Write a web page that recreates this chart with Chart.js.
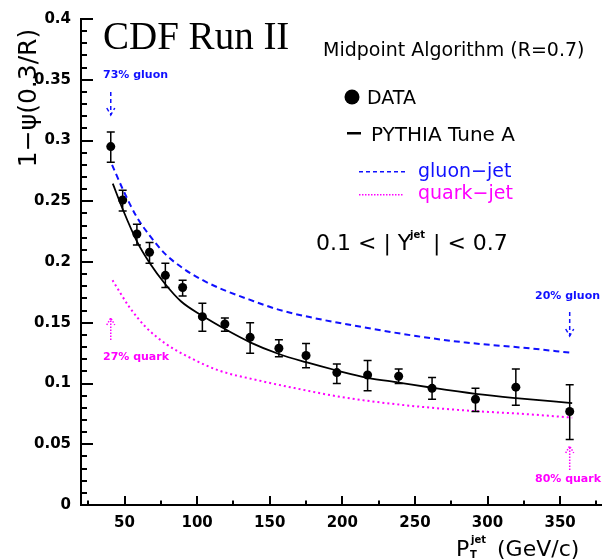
<!DOCTYPE html>
<html>
<head>
<meta charset="utf-8">
<script src="https://cdn.jsdelivr.net/npm/chart.js@4.4.1/dist/chart.umd.min.js"></script>
<style>
    html, body { margin: 0; padding: 0; background: #fff; overflow: hidden; }
    #wrap { width: 606px; height: 559px; }
</style>
</head>
<body>
<div id="wrap"><canvas id="shapeChart" width="606" height="559"></canvas></div>
<script>
// точки данных (pT, 1-psi) и ошибки
const dataPt = [40.5, 48.7, 58.5, 67.2, 78.1, 90, 103.6, 119.1, 136.5, 156.3, 175, 196.2, 217.4, 238.8, 261.8, 291.7, 319.5, 356.6];
const dataPsi = [0.295, 0.251, 0.223, 0.208, 0.189, 0.179, 0.155, 0.149, 0.138, 0.129, 0.123, 0.109, 0.107, 0.106, 0.096, 0.087, 0.097, 0.077];
const dataErrHi = [0.307, 0.259, 0.231, 0.216, 0.199, 0.185, 0.166, 0.154, 0.150, 0.136, 0.133, 0.116, 0.119, 0.112, 0.105, 0.096, 0.112, 0.099];
const dataErrLo = [0.282, 0.242, 0.214, 0.199, 0.179, 0.172, 0.143, 0.143, 0.125, 0.122, 0.113, 0.100, 0.094, 0.100, 0.087, 0.077, 0.082, 0.054];

// PYTHIA Tune A
const pythiaPt = [41.9, 48.9, 58.5, 67.2, 78.1, 89, 103.6, 119.1, 136.5, 156.3, 175, 196.2, 217.4, 238.8, 261.8, 291.7, 319.5, 358.3];
const pythiaPsi = [0.2645, 0.243, 0.217, 0.1994, 0.1817, 0.1675, 0.1557, 0.1448, 0.1339, 0.1243, 0.1175, 0.1107, 0.1047, 0.1008, 0.0965, 0.0915, 0.088, 0.0839];

// gluon-jet
const gluonPt = [41.4, 48.9, 58.5, 67.2, 78.1, 90, 103.6, 117.3, 135.6, 156, 178.8, 215.3, 251.8, 283.7, 329.3, 358.3];
const gluonPsi = [0.28, 0.2596, 0.2368, 0.222, 0.2065, 0.195, 0.1852, 0.1775, 0.1692, 0.1608, 0.1543, 0.1461, 0.1389, 0.1339, 0.1289, 0.1252];

// quark-jet
const quarkPt = [41.7, 53.5, 64.9, 78.6, 94.5, 115, 142.4, 169.7, 197.1, 224.4, 251.8, 283.7, 329.3, 358.3];
const quarkPsi = [0.185, 0.1626, 0.1461, 0.1325, 0.1216, 0.1107, 0.1025, 0.0956, 0.0893, 0.0847, 0.0811, 0.0779, 0.0746, 0.0719];

const xTickValues = [50, 100, 150, 200, 250, 300, 350];
const yTickValues = [0, 0.05, 0.1, 0.15, 0.2, 0.25, 0.3, 0.35, 0.4];
const yTickLabels = ['0', '0.05', '0.1', '0.15', '0.2', '0.25', '0.3', '0.35', '0.4'];

const BLUE = '#1010ff';
const MAGENTA = '#ff00ff';
const SANS = '"DejaVu Sans", sans-serif';

const toPoints = (xs, ys) => xs.map((x, i) => ({x: x, y: ys[i]}));

// ошибки по вертикали
const errorBars = {
    id: 'errorBars',
    afterDatasetsDraw(chart) {
        const {ctx, scales: {x, y}} = chart;
        ctx.save();
        ctx.strokeStyle = '#000';
        ctx.lineWidth = 1.5;
        dataPt.forEach((pt, i) => {
            const px = x.getPixelForValue(pt);
            const top = y.getPixelForValue(dataErrHi[i]);
            const bot = y.getPixelForValue(dataErrLo[i]);
            ctx.beginPath();
            ctx.moveTo(px, top); ctx.lineTo(px, bot);
            ctx.moveTo(px - 4, top); ctx.lineTo(px + 4, top);
            ctx.moveTo(px - 4, bot); ctx.lineTo(px + 4, bot);
            ctx.stroke();
        });
        ctx.restore();
    }
};

function arrow(ctx, x, y1, y2, color, dash) {
    // y1 -> y2, наконечник на y2
    ctx.save();
    ctx.strokeStyle = color;
    ctx.lineWidth = 1.5;
    ctx.setLineDash(dash);
    ctx.beginPath();
    ctx.moveTo(x, y1); ctx.lineTo(x, y2);
    ctx.stroke();
    const d = y2 > y1 ? -1 : 1;
    ctx.beginPath();
    ctx.moveTo(x - 4, y2 + d * 7); ctx.lineTo(x, y2); ctx.lineTo(x + 4, y2 + d * 7);
    ctx.stroke();
    ctx.restore();
}

// подписи, тики, легенда
const decorations = {
    id: 'decorations',
    afterDraw(chart) {
        const {ctx, scales: {x, y}} = chart;
        ctx.save();
        ctx.setLineDash([]);
        ctx.globalAlpha = 1;

        // тики внутрь
        const left = x.left;
        const bottom = y.bottom;
        ctx.fillStyle = '#000';
        for (let k = 0; k <= 40; k++) {
            const py = Math.round(y.getPixelForValue(k / 100));
            const len = k % 5 === 0 ? 12 : 6;
            ctx.fillRect(left, py - 1, len, 2);
        }
        for (let v = 25; v <= 375; v += 25) {
            const px = Math.round(x.getPixelForValue(v));
            const len = v % 50 === 0 ? 9 : 4.5;
            ctx.fillRect(px - 1, bottom - len, 2, len);
        }

        // заголовки осей
        ctx.save();
        ctx.translate(29, 98);
        ctx.rotate(-Math.PI / 2);
        ctx.font = '25px ' + SANS;
        ctx.textAlign = 'center';
        ctx.textBaseline = 'middle';
        ctx.fillText('1\u2212\u03C8(0.3/R)', 0, 0);
        ctx.restore();

        ctx.textAlign = 'left';
        ctx.textBaseline = 'alphabetic';
        ctx.font = '22px ' + SANS;
        ctx.fillText('P', 456, 556);
        ctx.font = 'bold 10px ' + SANS;
        ctx.fillText('T', 470, 558);
        ctx.fillText('jet', 471, 543);
        ctx.font = '22px ' + SANS;
        ctx.fillText('(GeV/c)', 497, 556);

        // CDF Run II
        ctx.font = '39px "Liberation Serif", serif';
        ctx.fillText('CDF Run II', 103, 49);

        ctx.font = '19px ' + SANS;
        ctx.fillText('Midpoint Algorithm (R=0.7)', 323, 56);

        // легенда
        ctx.beginPath();
        ctx.arc(352, 97, 7.5, 0, Math.PI * 2);
        ctx.fill();
        ctx.font = '19px ' + SANS;
        ctx.fillText('DATA', 367, 104);
        ctx.fillRect(347, 132, 14, 2.5);
        ctx.font = '20px ' + SANS;
        ctx.fillText('PYTHIA Tune A', 371, 141);

        ctx.fillStyle = BLUE;
        for (let lx = 359; lx < 403; lx += 7) {
            ctx.fillRect(lx, 171, 4, 1.5);
        }
        ctx.fillStyle = MAGENTA;
        for (let lx = 359; lx < 403; lx += 3) {
            ctx.fillRect(lx, 194, 1.5, 1.5);
        }
        ctx.font = '19px ' + SANS;
        ctx.fillStyle = BLUE;
        ctx.fillText('gluon\u2212jet', 418, 177);
        ctx.fillStyle = MAGENTA;
        ctx.fillText('quark\u2212jet', 418, 199);

        // 0.1 < |Y^jet| < 0.7
        ctx.fillStyle = '#000';
        ctx.font = '22px ' + SANS;
        ctx.fillText('0.1 < | Y', 316, 250);
        ctx.font = 'bold 10px ' + SANS;
        ctx.fillText('jet', 410, 238);
        ctx.font = '22px ' + SANS;
        ctx.fillText(' | < 0.7', 426, 250);

        // стрелки с долями глюонов/кварков
        const xl = x.getPixelForValue(dataPt[0]);
        const xr = x.getPixelForValue(dataPt[dataPt.length - 1]);
        arrow(ctx, xl, 92, 115, BLUE, [4, 3]);
        arrow(ctx, xl, 340, 318, MAGENTA, [1.5, 1.5]);
        arrow(ctx, xr, 312, 336, BLUE, [4, 3]);
        arrow(ctx, xr, 470, 446, MAGENTA, [1.5, 1.5]);

        ctx.font = 'bold 11px ' + SANS;
        ctx.textBaseline = 'middle';
        ctx.fillStyle = BLUE;
        ctx.fillText('73% gluon', 103, 75);
        ctx.fillText('20% gluon', 535, 296);
        ctx.fillStyle = MAGENTA;
        ctx.fillText('27% quark', 103, 357);
        ctx.fillText('80% quark', 535, 479);

        ctx.restore();
    }
};

const chart = new Chart(document.getElementById('shapeChart'), {
    type: 'scatter',
    data: {
        datasets: [
            {
                label: 'gluon-jet',
                type: 'line',
                data: toPoints(gluonPt, gluonPsi),
                borderColor: BLUE,
                borderWidth: 2,
                borderDash: [6, 4],
                pointRadius: 0,
                cubicInterpolationMode: 'monotone',
                fill: false
            },
            {
                label: 'quark-jet',
                type: 'line',
                data: toPoints(quarkPt, quarkPsi),
                borderColor: MAGENTA,
                borderWidth: 2,
                borderDash: [2, 3],
                pointRadius: 0,
                cubicInterpolationMode: 'monotone',
                fill: false
            },
            {
                label: 'PYTHIA Tune A',
                type: 'line',
                data: toPoints(pythiaPt, pythiaPsi),
                borderColor: '#000',
                borderWidth: 1.8,
                pointRadius: 0,
                cubicInterpolationMode: 'monotone',
                fill: false
            },
            {
                label: 'DATA',
                data: toPoints(dataPt, dataPsi),
                backgroundColor: '#000',
                borderColor: '#000',
                pointRadius: 4.5,
                pointBorderWidth: 0
            }
        ]
    },
    options: {
        responsive: false,
        animation: false,
        layout: {padding: {top: 17, right: 0, left: 0, bottom: 0}},
        plugins: {
            legend: {display: false},
            tooltip: {enabled: false}
        },
        scales: {
            x: {
                type: 'linear',
                min: 20,
                max: 378.5,
                afterFit: (scale) => { scale.height = 54; },
                afterBuildTicks: (scale) => { scale.ticks = xTickValues.map(v => ({value: v})); },
                grid: {display: false, drawTicks: false},
                border: {display: true, color: '#000', width: 2},
                ticks: {
                    color: '#000',
                    padding: 9,
                    maxRotation: 0,
                    font: {family: '"DejaVu Sans"', size: 15, weight: 'bold'}
                }
            },
            y: {
                type: 'linear',
                min: 0,
                max: 0.4,
                afterFit: (scale) => { scale.width = 81; },
                afterBuildTicks: (scale) => { scale.ticks = yTickValues.map(v => ({value: v})); },
                grid: {display: false, drawTicks: false},
                border: {display: true, color: '#000', width: 2},
                ticks: {
                    color: '#000',
                    padding: 10,
                    font: {family: '"DejaVu Sans"', size: 15, weight: 'bold'},
                    callback: (v, i) => yTickLabels[i]
                }
            }
        }
    },
    plugins: [errorBars, decorations]
});
</script>
</body>
</html>
